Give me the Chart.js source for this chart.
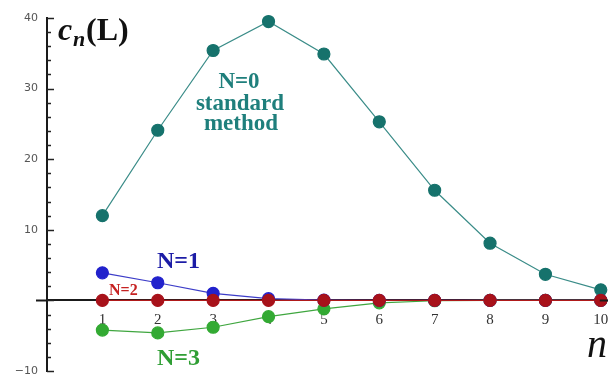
<!DOCTYPE html>
<html lang="en">
<head>
    <meta charset="UTF-8">
    <title>c_n(L) vs n</title>
    <script src="https://cdn.jsdelivr.net/npm/chart.js"></script>
    <style>
        body { margin: 0; background: #fff; }
        #wrap { position: relative; width: 608px; height: 381px; }
    </style>
</head>
<body>
<div id="wrap">
    <canvas id="cn-chart" width="608" height="381"></canvas>
</div>

<script>
    // values
    const nValues = [1, 2, 3, 4, 5, 6, 7, 8, 9, 10];
    const cnN0 = [12.0, 24.1, 35.4, 39.5, 34.9, 25.3, 15.6, 8.1, 3.7, 1.5];
    const cnN1 = [3.9, 2.5, 1.0, 0.25, 0.05, 0, 0, 0, 0, 0];
    const cnN2 = [0, 0, 0, 0, 0, 0, 0, 0, 0, 0];
    const cnN3 = [-4.2, -4.6, -3.8, -2.3, -1.2, -0.35, -0.05, 0, 0, 0];
    const yLabelTicks = [-10, 10, 20, 30, 40];

    function toPoints(values) {
        return nValues.map((n, i) => ({ x: n, y: values[i] }));
    }

    function series(values, pointColor, lineColor, order) {
        return {
            data: toPoints(values),
            showLine: true,
            borderColor: lineColor,
            borderWidth: 1.2,
            pointBackgroundColor: pointColor,
            pointBorderColor: pointColor,
            pointRadius: 6,
            pointHoverRadius: 6,
            clip: false,
            order: order
        };
    }

    // inward tick marks on the y axis, the x-axis stubs outside the chart area, and the text labels
    const extras = {
        id: 'extras',
        afterDraw(chart) {
            const ctx = chart.ctx;
            const xs = chart.scales.x;
            const ys = chart.scales.y;
            const ax = xs.getPixelForValue(0);
            const ay = ys.getPixelForValue(0);
            const right = chart.chartArea.right;

            ctx.save();
            ctx.strokeStyle = '#1a1a1a';
            ctx.lineWidth = 2;
            ctx.beginPath();
            ctx.moveTo(ax - 11, ay);
            ctx.lineTo(ax, ay);
            ctx.moveTo(right - 1, ay);
            ctx.lineTo(chart.width, ay);
            ctx.stroke();

            ctx.strokeStyle = '#222';
            ctx.lineWidth = 1.5;
            for (let v = -10; v <= 40; v += 2) {
                const py = Math.round(ys.getPixelForValue(v)) + 0.5;
                const len = (v % 10 === 0) ? 7 : 4;
                ctx.beginPath();
                ctx.moveTo(ax, py);
                ctx.lineTo(ax + len, py);
                ctx.stroke();
            }

            // c_n(L)
            ctx.fillStyle = '#111';
            ctx.textBaseline = 'alphabetic';
            ctx.textAlign = 'left';
            ctx.font = 'italic bold 32px "Liberation Serif"';
            ctx.fillText('c', 58, 40);
            ctx.font = 'italic bold 22px "Liberation Serif"';
            ctx.fillText('n', 73, 46);
            ctx.font = 'bold 32px "Liberation Serif"';
            ctx.fillText('(L)', 86, 40);

            // n axis label
            ctx.font = 'italic 40px "Liberation Serif"';
            ctx.fillText('n', 587, 357);

            ctx.textAlign = 'center';
            ctx.font = 'bold 23px "Liberation Serif"';
            ctx.fillStyle = '#1f7f7c';
            ctx.fillText('N=0', 239, 88);
            ctx.fillText('standard', 240, 110);
            ctx.fillText('method', 241, 130);

            ctx.textAlign = 'left';
            ctx.fillStyle = '#1c1ca6';
            ctx.font = 'bold 24px "Liberation Serif"';
            ctx.fillText('N=1', 157, 268);

            ctx.fillStyle = '#c62222';
            ctx.font = 'bold 16px "Liberation Serif"';
            ctx.fillText('N=2', 109, 295);

            ctx.fillStyle = '#2f9e34';
            ctx.font = 'bold 24px "Liberation Serif"';
            ctx.fillText('N=3', 157, 365);
            ctx.restore();
        }
    };

    new Chart(document.getElementById('cn-chart'), {
        type: 'scatter',
        data: {
            datasets: [
                series(cnN2, '#a8121a', '#b01a1a', 0),
                series(cnN1, '#2222cc', '#3c3cc8', 1),
                series(cnN3, '#33aa33', '#3fa63f', 2),
                series(cnN0, '#16726c', '#3a8c88', 3)
            ]
        },
        options: {
            responsive: false,
            animation: false,
            layout: { padding: { left: 0, right: 0, top: 18, bottom: 10 } },
            plugins: {
                legend: { display: false },
                tooltip: { enabled: false }
            },
            scales: {
                x: {
                    type: 'linear',
                    min: 0,
                    max: 10,
                    position: { y: 0 },
                    afterFit(scale) {
                        scale.height = 0;
                        scale.paddingLeft = 0;
                        scale.paddingRight = 0;
                    },
                    afterBuildTicks(scale) {
                        scale.ticks = nValues.map(v => ({ value: v }));
                    },
                    grid: { drawOnChartArea: false, drawTicks: false },
                    border: { color: '#1a1a1a', width: 2 },
                    ticks: {
                        padding: 11,
                        color: '#333',
                        font: { family: '"Liberation Serif"', size: 15 }
                    }
                },
                y: {
                    type: 'linear',
                    min: -10,
                    max: 40,
                    position: 'left',
                    afterFit(scale) {
                        scale.width = 47;
                        scale.paddingTop = 0;
                        scale.paddingBottom = 0;
                    },
                    afterBuildTicks(scale) {
                        scale.ticks = yLabelTicks.map(v => ({ value: v }));
                    },
                    grid: { drawOnChartArea: false, drawTicks: false },
                    border: { color: '#1a1a1a', width: 2 },
                    ticks: {
                        padding: 9,
                        color: '#555',
                        font: { family: '"DejaVu Sans"', size: 11 },
                        callback: v => v < 0 ? '\u2212' + Math.abs(v) : String(v)
                    }
                }
            }
        },
        plugins: [extras]
    });
</script>
</body>
</html>
